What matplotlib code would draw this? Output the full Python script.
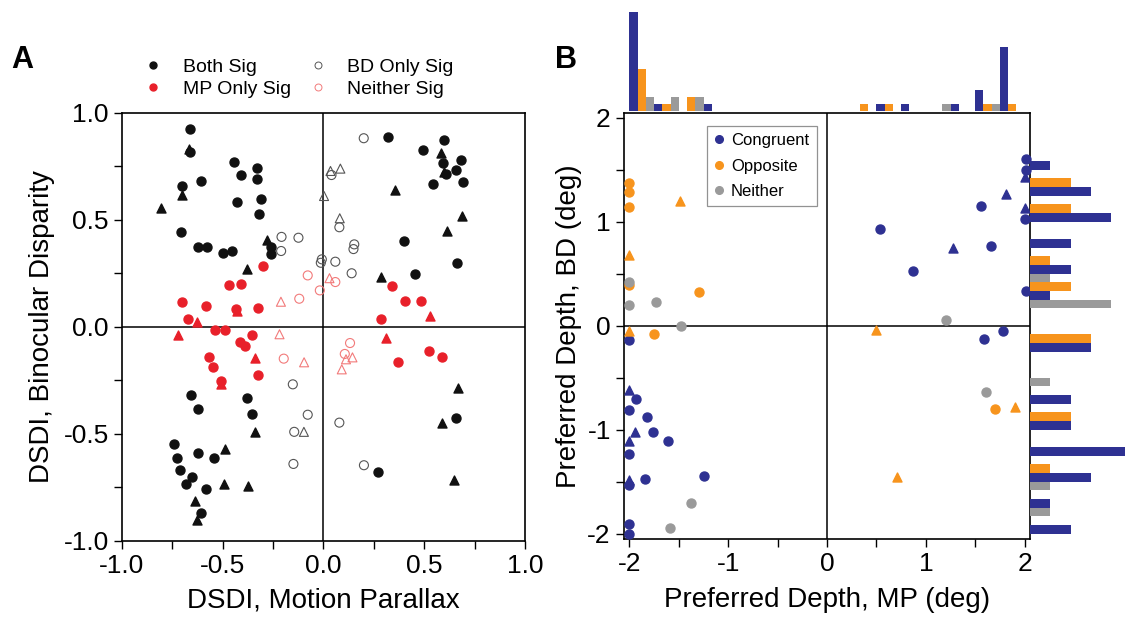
import numpy as np
import matplotlib.pyplot as plt
from matplotlib.lines import Line2D
from matplotlib.ticker import MultipleLocator

plt.rcParams["font.family"] = ["Liberation Sans", "DejaVu Sans"]
plt.rcParams["axes.unicode_minus"] = False

# ---- panel A: DSDI (motion parallax, binocular disparity) ----
both_circ = np.array([
    (-0.663, 0.924), (-0.66, 0.819), (-0.442, 0.773), (-0.407, 0.71), (-0.328, 0.744),
    (-0.332, 0.692), (-0.703, 0.659), (-0.607, 0.684), (-0.429, 0.584), (-0.31, 0.598),
    (-0.32, 0.527), (-0.705, 0.445), (-0.625, 0.375), (-0.576, 0.375), (-0.5, 0.346),
    (-0.452, 0.354), (-0.262, 0.375), (-0.259, 0.341),
    (0.32, 0.889), (0.6, 0.875), (0.494, 0.829), (0.591, 0.765), (0.683, 0.78),
    (0.66, 0.734), (0.606, 0.713), (0.693, 0.676), (0.545, 0.67), (0.401, 0.4),
    (0.663, 0.299), (0.455, 0.248),
    (-0.655, -0.319), (-0.621, -0.382), (-0.381, -0.333), (-0.356, -0.407), (-0.744, -0.548),
    (-0.726, -0.614), (-0.621, -0.59), (-0.545, -0.611), (-0.711, -0.668), (-0.652, -0.702),
    (-0.682, -0.735), (-0.584, -0.757), (-0.61, -0.869),
    (0.658, -0.424), (0.269, -0.678)])
both_tri = np.array([
    (-0.668, 0.83), (-0.703, 0.617), (-0.804, 0.555), (-0.282, 0.408), (-0.38, 0.271),
    (0.581, 0.811), (0.6, 0.726), (0.353, 0.64), (0.686, 0.52), (0.612, 0.45), (0.284, 0.235),
    (-0.34, -0.492), (-0.489, -0.572), (-0.492, -0.735), (-0.373, -0.743), (-0.635, -0.812),
    (-0.629, -0.902), (0.667, -0.283), (0.588, -0.45), (0.65, -0.717)])
mp_circ = np.array([
    (-0.299, 0.287), (-0.467, 0.196), (-0.409, 0.2), (-0.7, 0.117), (-0.581, 0.098),
    (-0.432, 0.083), (-0.327, 0.087), (-0.672, 0.036), (-0.54, -0.014), (-0.489, -0.014),
    (0.342, 0.193), (0.403, 0.121), (0.482, 0.121), (0.284, 0.039),
    (-0.353, -0.037), (-0.414, -0.07), (-0.388, -0.089), (-0.566, -0.14), (-0.548, -0.188),
    (-0.327, -0.226), (-0.508, -0.252), (0.371, -0.164), (0.525, -0.112), (0.586, -0.142)])
mp_tri = np.array([
    (-0.427, 0.075), (-0.627, 0.022), (0.53, 0.053), (-0.723, -0.039), (-0.342, -0.146),
    (-0.508, -0.266), (0.31, -0.05)])
bd_circ = np.array([
    (-0.208, 0.421), (-0.124, 0.417), (-0.21, 0.355), (-0.008, 0.316), (-0.013, 0.3),
    (0.2, 0.882), (0.04, 0.71), (0.079, 0.466), (0.153, 0.386), (0.149, 0.364),
    (0.059, 0.305), (0.14, 0.251), (-0.152, -0.268), (-0.078, -0.41), (-0.145, -0.49),
    (-0.149, -0.64), (0.079, -0.447), (0.201, -0.646)])
bd_tri = np.array([(0.003, 0.612), (0.035, 0.729), (0.084, 0.74), (0.081, 0.508), (-0.097, -0.49)])
nei_circ = np.array([
    (-0.078, 0.241), (-0.018, 0.171), (-0.12, 0.132), (0.059, 0.21),
    (-0.197, -0.148), (0.132, -0.075), (0.106, -0.126)])
nei_tri = np.array([
    (-0.211, 0.118), (0.03, 0.228), (-0.218, -0.034), (-0.096, -0.165), (0.112, -0.151),
    (0.144, -0.142), (0.091, -0.198)])

# ---- panel B: preferred depth (MP, BD) ----
cong_circ = np.array([
    (2.009, 1.603), (2.009, 1.494), (1.556, 1.151), (2.0, 1.029), (0.533, 0.933),
    (1.655, 0.763), (0.868, 0.529), (2.009, 0.33), (1.786, -0.048), (1.584, -0.13),
    (-2, -0.141), (-1.932, -0.702), (-2, -0.811), (-1.818, -0.881), (-1.763, -1.022),
    (-1.611, -1.103), (-2, -1.234), (-2, -1.526), (-1.841, -1.474), (-1.246, -1.442),
    (-2, -1.904), (-2, -2.003)])
cong_tri = np.array([
    (2.006, 1.43), (1.807, 1.266), (2.006, 1.131), (1.277, 0.747), (-2, -0.622),
    (-1.942, -1.026), (-2, -1.103), (-2, -1.481)])
opp_circ = np.array([
    (-2, 1.372), (-2, 1.282), (-2, 1.141), (-2, 0.395), (-1.294, 0.32), (-1.753, -0.08),
    (1.705, -0.801)])
opp_tri = np.array([
    (-1.493, 1.202), (-2, 0.68), (-2, -0.052), (0.496, -0.038), (1.898, -0.785), (0.705, -1.455)])
neither_circ = np.array([
    (-2, 0.42), (-2, 0.202), (-1.73, 0.231), (-1.483, 0.0), (1.205, 0.058), (1.614, -0.641),
    (-1.378, -1.705), (-1.591, -1.946)])

# histogram counts, bins of 0.25 deg from -2 to 2
bin_edges = np.linspace(-2, 2, 17)
mp_hist_cong = [14, 1, 0, 1, 0, 0, 0, 0, 0, 0, 1, 1, 0, 1, 3, 9]
mp_hist_opp = [6, 1, 2, 0, 0, 0, 0, 0, 0, 1, 1, 0, 0, 0, 1, 1]
mp_hist_nei = [2, 2, 2, 0, 0, 0, 0, 0, 0, 0, 0, 0, 1, 0, 1, 0]
bd_hist_cong = [2, 1, 3, 5, 2, 2, 0, 3, 0, 1, 2, 2, 4, 3, 1, 0]
bd_hist_opp = [0, 0, 1, 0, 2, 0, 0, 3, 0, 2, 1, 0, 2, 2, 0, 0]
bd_hist_nei = [1, 1, 0, 0, 0, 1, 0, 0, 4, 1, 0, 0, 0, 0, 0, 0]

c_black = "#111111"
c_red = "#e8202a"
c_dark = "#555555"
c_pink = "#f27a7a"
c_blue = "#2e3192"
c_orange = "#f7941d"
c_gray = "#9a9a9a"

fig = plt.figure(figsize=(11.25, 6.17), dpi=100)
axA = fig.add_axes([0.1084, 0.1232, 0.3582, 0.6937])
axB = fig.add_axes([0.5547, 0.1264, 0.3609, 0.6904])
ax_top = fig.add_axes([0.5547, 0.8201, 0.3609, 0.1637], sharex=axB)
ax_right = fig.add_axes([0.9156, 0.1264, 0.0844, 0.6904], sharey=axB)

ms = 42
# panel A
axA.axhline(0, color="k", lw=1.1, zorder=1)
axA.axvline(0, color="k", lw=1.1, zorder=1)
axA.scatter(both_circ[:, 0], both_circ[:, 1], s=ms, c=c_black, marker="o", zorder=3)
axA.scatter(both_tri[:, 0], both_tri[:, 1], s=ms, c=c_black, marker="^", zorder=3)
axA.scatter(mp_circ[:, 0], mp_circ[:, 1], s=ms, c=c_red, marker="o", zorder=3)
axA.scatter(mp_tri[:, 0], mp_tri[:, 1], s=ms, c=c_red, marker="^", zorder=3)
axA.scatter(bd_circ[:, 0], bd_circ[:, 1], s=ms, facecolors="none", edgecolors=c_dark,
            linewidths=0.8, marker="o", zorder=3)
axA.scatter(bd_tri[:, 0], bd_tri[:, 1], s=ms, facecolors="none", edgecolors=c_dark,
            linewidths=0.8, marker="^", zorder=3)
axA.scatter(nei_circ[:, 0], nei_circ[:, 1], s=ms, facecolors="none", edgecolors=c_pink,
            linewidths=0.8, marker="o", zorder=3)
axA.scatter(nei_tri[:, 0], nei_tri[:, 1], s=ms, facecolors="none", edgecolors=c_pink,
            linewidths=0.8, marker="^", zorder=3)

axA.set_xlim(-1, 1)
axA.set_ylim(-1, 1)
axA.xaxis.set_minor_locator(MultipleLocator(0.25))
axA.yaxis.set_minor_locator(MultipleLocator(0.25))
axA.set_xticks([-1, -0.5, 0, 0.5, 1])
axA.set_xticklabels(["-1.0", "-0.5", "0.0", "0.5", "1.0"])
axA.set_yticks([-1, -0.5, 0, 0.5, 1])
axA.set_yticklabels(["-1.0", "-0.5", "0.0", "0.5", "1.0"])
axA.set_xlabel("DSDI, Motion Parallax", fontsize=20, labelpad=7)
axA.set_ylabel("DSDI, Binocular Disparity", fontsize=20, labelpad=6)

handlesA = [
    Line2D([], [], ls="none", marker="o", ms=5, color=c_black),
    Line2D([], [], ls="none", marker="o", ms=5, color=c_red),
    Line2D([], [], ls="none", marker="o", ms=5, mfc="none", mec=c_dark, mew=0.7),
    Line2D([], [], ls="none", marker="o", ms=5, mfc="none", mec=c_pink, mew=0.7),
]
axA.legend(handlesA, ["Both Sig", "MP Only Sig", "BD Only Sig", "Neither Sig"],
           ncol=2, loc="lower left", bbox_to_anchor=(0.03, 1.035), frameon=False,
           fontsize=14, handletextpad=0.5, columnspacing=0.4, labelspacing=0.22,
           borderaxespad=0, borderpad=0)

# panel B
axB.axhline(0, color="k", lw=1.1, zorder=1)
axB.axvline(0, color="k", lw=1.1, zorder=1)
axB.scatter(cong_circ[:, 0], cong_circ[:, 1], s=ms, c=c_blue, marker="o", zorder=3, clip_on=False)
axB.scatter(cong_tri[:, 0], cong_tri[:, 1], s=ms, c=c_blue, marker="^", zorder=3, clip_on=False)
axB.scatter(opp_circ[:, 0], opp_circ[:, 1], s=ms, c=c_orange, marker="o", zorder=3)
axB.scatter(opp_tri[:, 0], opp_tri[:, 1], s=ms, c=c_orange, marker="^", zorder=3)
axB.scatter(neither_circ[:, 0], neither_circ[:, 1], s=ms, c=c_gray, marker="o", zorder=3)
axB.set_xlim(-2.055, 2.055)
axB.set_ylim(-2.05, 2.045)
axB.xaxis.set_major_locator(MultipleLocator(1))
axB.xaxis.set_minor_locator(MultipleLocator(0.5))
axB.yaxis.set_major_locator(MultipleLocator(1))
axB.yaxis.set_minor_locator(MultipleLocator(0.5))
axB.set_xlabel("Preferred Depth, MP (deg)", fontsize=20, labelpad=8)
axB.set_ylabel("Preferred Depth, BD (deg)", fontsize=20)

handlesB = [
    Line2D([], [], ls="none", marker="o", ms=5.5, color=c_blue),
    Line2D([], [], ls="none", marker="o", ms=5.5, color=c_orange),
    Line2D([], [], ls="none", marker="o", ms=5.5, color=c_gray),
]
legB = axB.legend(handlesB, ["Congruent", "Opposite", "Neither"], loc="upper left",
                  bbox_to_anchor=(0.204, 0.97), fontsize=12, fancybox=False,
                  handletextpad=0.4, borderaxespad=0, handlelength=0.6,
                  labelspacing=0.62, borderpad=0.45)
legB.get_frame().set_edgecolor("#777777")
legB.get_frame().set_linewidth(0.9)

for ax in (axA, axB):
    ax.tick_params(which="both", direction="out", width=1.0, labelsize=19, length=6)
    for sp in ax.spines.values():
        sp.set_linewidth(1.2)

# marginal histograms
bw = (bin_edges[1] - bin_edges[0]) / 3
left = bin_edges[:-1]
for k, (counts, col) in enumerate([(mp_hist_cong, c_blue), (mp_hist_opp, c_orange),
                                   (mp_hist_nei, c_gray)]):
    ax_top.bar(left + k * bw, counts, width=bw, align="edge", color=col)
for k, (counts, col) in enumerate([(bd_hist_cong, c_blue), (bd_hist_opp, c_orange),
                                   (bd_hist_nei, c_gray)]):
    ax_right.barh(left + k * bw, counts, height=bw, align="edge", color=col)
ax_top.set_ylim(0, 14.3)
ax_right.set_xlim(0, 4.68)
ax_top.axis("off")
ax_right.axis("off")

fig.text(0.0195, 0.903, "A", fontsize=22, fontweight="bold", va="center", ha="center")
fig.text(0.503, 0.903, "B", fontsize=22, fontweight="bold", va="center", ha="center")

fig.savefig("out.png", dpi=100)
